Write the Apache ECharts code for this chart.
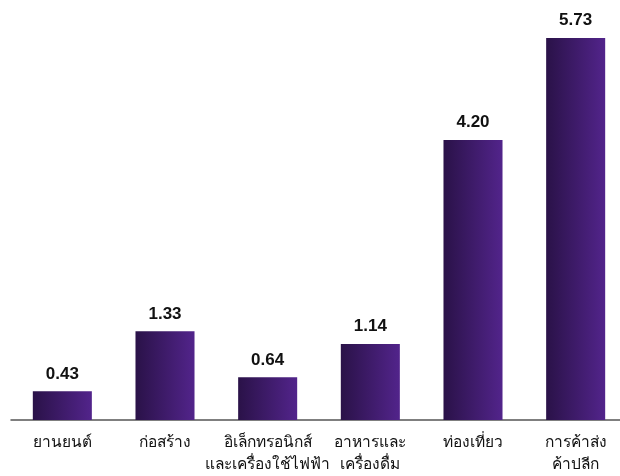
<!DOCTYPE html>
<html>
<head>
<meta charset="utf-8">
<script src="https://cdn.jsdelivr.net/npm/echarts@6/dist/echarts.min.js"></script>
<style>html,body{margin:0;padding:0;background:#fff}#chart{width:620px;height:476px}</style>
</head>
<body>
<div id="chart"></div>
<script>
// Sectors and their values
const categories = ['ยานยนต์', 'ก่อสร้าง', 'อิเล็กทรอนิกส์\nและเครื่องใช้ไฟฟ้า', 'อาหารและ\nเครื่องดื่ม', 'ท่องเที่ยว', 'การค้าส่ง\nค้าปลีก'];
const values = [0.43, 1.33, 0.64, 1.14, 4.20, 5.73];

const chart = echarts.init(document.getElementById('chart'));
chart.setOption({
  animation: false,
  grid: { left: 11, right: -7, top: 20, bottom: 56, outerBoundsMode: 'none', containLabel: false },
  xAxis: {
    type: 'category',
    data: categories,
    axisLine: { lineStyle: { color: '#555', width: 1.5 } },
    axisTick: { show: false },
    axisLabel: {
      color: '#111', fontSize: 15.5, lineHeight: 22, margin: 12,
      fontFamily: 'sans-serif', interval: 0
    }
  },
  yAxis: { type: 'value', min: 0, max: 6, show: false, splitLine: { show: false } },
  series: [{
    type: 'bar',
    data: values,
    barWidth: '57.5%',
    itemStyle: {
      color: new echarts.graphic.LinearGradient(0, 0, 1, 0, [
        { offset: 0, color: '#2a1248' },
        { offset: 1, color: '#52248b' }
      ])
    },
    label: {
      show: true, position: 'top', distance: 9,
      formatter: p => p.value.toFixed(2),
      color: '#111', fontSize: 17, fontWeight: 'bold',
      fontFamily: 'Liberation Sans, Arial, sans-serif'
    }
  }]
});
</script>
</body>
</html>
